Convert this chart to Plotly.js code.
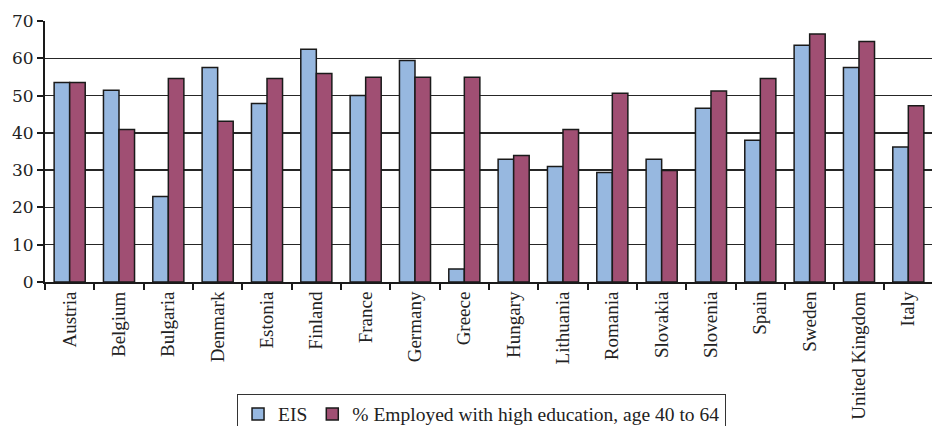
<!DOCTYPE html>
<html>
<head>
<meta charset="utf-8">
<script src="https://cdn.plot.ly/plotly-3.0.1.min.js"></script>
<style>
  html, body { margin: 0; padding: 0; background: #ffffff; }
  #chart { width: 932px; height: 426px; }
</style>
</head>
<body>
<div id="chart"></div>
<script>
// Countries on the category axis
const countries = [
  "Austria", "Belgium", "Bulgaria", "Denmark", "Estonia", "Finland",
  "France", "Germany", "Greece", "Hungary", "Lithuania", "Romania",
  "Slovakia", "Slovenia", "Spain", "Sweden", "United Kingdom", "Italy"
];

// European Innovation Scoreboard score
const eisValues = [
  53.5, 51.4, 22.9, 57.5, 47.9, 62.4, 50.0, 59.4, 3.5,
  32.9, 31.0, 29.4, 32.9, 46.6, 38.0, 63.5, 57.5, 36.2
];

// Share employed with high education, age 40 to 64
const employedValues = [
  53.5, 40.9, 54.6, 43.1, 54.6, 55.9, 54.9, 54.9, 54.9,
  33.9, 40.9, 50.6, 29.9, 51.2, 54.6, 66.5, 64.5, 47.3
];

const yTicks = [0, 10, 20, 30, 40, 50, 60, 70];

const serifA = "Liberation Serif";
const serifB = "DejaVu Serif";

const traces = [
  {
    type: "bar",
    name: "EIS",
    x: countries,
    y: eisValues,
    marker: { color: "#97b8e0", line: { color: "#1a1a1a", width: 1.5 } },
    hoverinfo: "skip"
  },
  {
    type: "bar",
    name: "% Employed with high education, age 40 to 64",
    x: countries,
    y: employedValues,
    marker: { color: "#a04f73", line: { color: "#1a1a1a", width: 1.5 } },
    hoverinfo: "skip"
  }
];

const layout = {
  width: 932,
  height: 426,
  margin: { l: 45, r: 0, t: 21, b: 144, pad: 0, autoexpand: false },
  paper_bgcolor: "#ffffff",
  plot_bgcolor: "#ffffff",
  font: { family: serifA, color: "#222222", size: 18 },
  barmode: "group",
  bargap: 0.37,
  bargroupgap: 0,
  showlegend: true,
  legend: {
    orientation: "h",
    x: 0.2165,
    xanchor: "left",
    y: -0.428,
    yanchor: "top",
    bordercolor: "#333333",
    borderwidth: 1,
    bgcolor: "#ffffff",
    font: { family: serifA, size: 19.5, color: "#222222" },
    itemwidth: 30,
    tracegroupgap: 0
  },
  xaxis: {
    type: "category",
    range: [-0.5, 17.48],
    automargin: false,
    tickangle: -90,
    ticks: "outside",
    tickson: "boundaries",
    ticklen: 6,
    tickwidth: 2,
    tickcolor: "#1a1a1a",
    showline: true,
    linecolor: "#1a1a1a",
    linewidth: 2,
    showgrid: false,
    zeroline: false,
    tickfont: { family: serifA, size: 19, color: "#222222" },
    fixedrange: true
  },
  yaxis: {
    range: [0, 70],
    automargin: false,
    tickvals: yTicks,
    ticktext: yTicks.map(String),
    ticks: "outside",
    ticklen: 6,
    tickwidth: 2,
    tickcolor: "#1a1a1a",
    showline: true,
    linecolor: "#1a1a1a",
    linewidth: 2,
    showgrid: true,
    gridcolor: "#262626",
    gridwidth: 1.5,
    zeroline: false,
    tickfont: { family: serifB, size: 17, color: "#222222" },
    fixedrange: true
  }
};

Plotly.newPlot("chart", traces, layout, { displayModeBar: false, staticPlot: true });
</script>
</body>
</html>
